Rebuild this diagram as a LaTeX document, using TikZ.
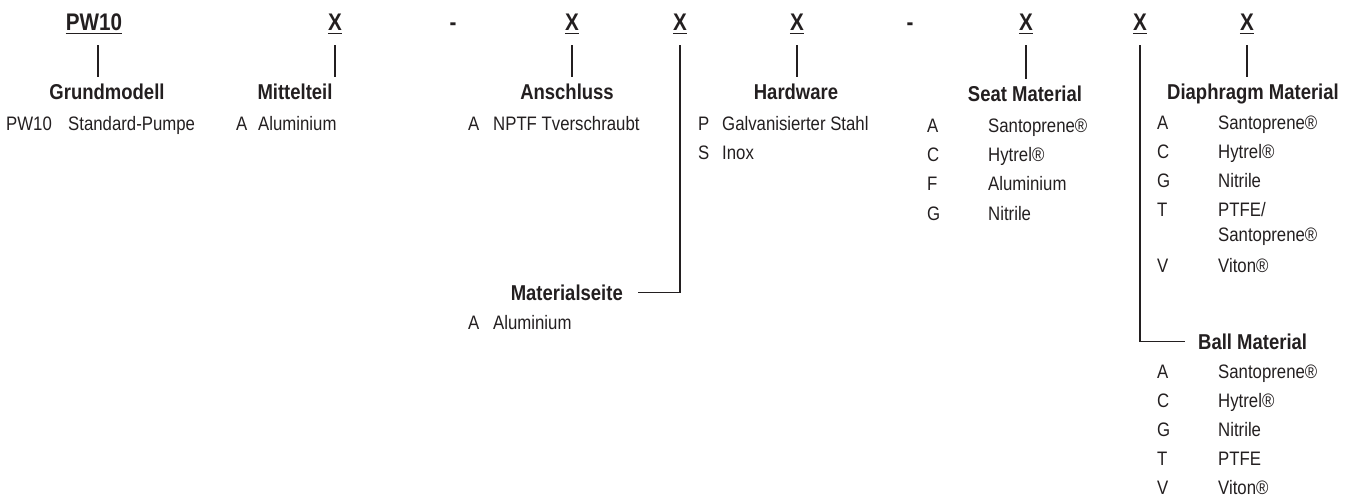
\documentclass[tikz,border=0pt]{standalone}
\usepackage{fontspec}
\newfontfamily\cn[FakeStretch=0.86]{Liberation Sans}
\definecolor{ink}{RGB}{35,31,32}
\begin{document}
\begin{tikzpicture}[x=1pt,y=-1pt,
  hdr/.style={font=\cn\fontsize{24}{28}\selectfont\bfseries, text=ink, anchor=base, inner xsep=0pt, inner ysep=14pt, text depth=0pt},
  ttl/.style={font=\cn\fontsize{21.5}{26}\selectfont\bfseries, text=ink, anchor=base, inner xsep=0pt, inner ysep=7pt},
  itm/.style={font=\cn\fontsize{19.5}{24}\selectfont, text=ink, anchor=base west, inner sep=0pt},
  conn/.style={draw=ink, line width=1.6pt},
  uline/.style={draw=ink, line width=1.4pt}]
\useasboundingbox (0,0) rectangle (1354,497);
% header
\node[hdr] (h0) at (94,31) {PW10};
\node[hdr] (h1) at (335,31) {X};
\node[hdr] (d1) at (453,31) {-};
\node[hdr] (h2) at (572,31) {X};
\node[hdr] (h3) at (680,31) {X};
\node[hdr] (h4) at (797,31) {X};
\node[hdr] (d2) at (910,31) {-};
\node[hdr] (h5) at (1026,31) {X};
\node[hdr] (h6) at (1140,31) {X};
\node[hdr] (h7) at (1247,31) {X};
\foreach \n in {h0,h1,h2,h3,h4,h5,h6,h7}
  \draw[uline] ([yshift=-2.5pt]\n.base west) -- ([yshift=-2.5pt]\n.base east);
% titles
\node[ttl] (t0) at (107,100) {Grundmodell};
\node[ttl] (t1) at (295,100) {Mittelteil};
\node[ttl] (t2) at (567,100) {Anschluss};
\node[ttl] (t4) at (796,100) {Hardware};
\node[ttl] (t5) at (1025,102) {Seat Material};
\node[ttl] (t7) at (1253,100) {Diaphragm Material};
\node[ttl, anchor=base east, inner xsep=15pt] (t3) at (638,300) {Materialseite};
\node[ttl, anchor=base west, inner xsep=13pt] (t6) at (1185,349) {Ball Material};
% connectors
\draw[conn] ([xshift=4pt]h0.south) -- ([xshift=4pt]h0.south |- t0.north);
\draw[conn] (h1.south) -- (h1.south |- t1.north);
\draw[conn] (h2.south) -- (h2.south |- t2.north);
\draw[conn] (h4.south) -- (h4.south |- t4.north);
\draw[conn] (h5.south) -- (h5.south |- t5.north);
\draw[conn] (h7.south) -- (h7.south |- t7.north);
\draw[conn] (h3.south) |- (t3.east);
\draw[conn] (h6.south) |- (t6.west);
% items
\node[itm] (i0a) at (6,131) {PW10};
\node[itm] (i0b) at (68,131) {Standard-Pumpe};
\node[itm] (i1a) at (236,131) {A};
\node[itm] (i1b) at (258,131) {Aluminium};
\node[itm] (i2a) at (468,131) {A};
\node[itm] (i2b) at (493,131) {NPTF Tverschraubt};
\node[itm] (i4a) at (698,131) {P};
\node[itm] (i4b) at (722,131) {Galvanisierter Stahl};
\node[itm] (i4c) at (698,160) {S};
\node[itm] (i4d) at (722,160) {Inox};
% seat
\node[itm] (s1a) at (927,133) {A};
\node[itm] (s1b) at (988,133) {Santoprene®};
\node[itm] (s2a) at (927,162) {C};
\node[itm] (s2b) at (988,162) {Hytrel®};
\node[itm] (s3a) at (927,191) {F};
\node[itm] (s3b) at (988,191) {Aluminium};
\node[itm] (s4a) at (927,220) {G};
\node[itm] (s4b) at (988,220) {Nitrile};
% diaphragm
\node[itm] (p1a) at (1157,130) {A};
\node[itm] (p1b) at (1218,130) {Santoprene®};
\node[itm] (p2a) at (1157,159) {C};
\node[itm] (p2b) at (1218,159) {Hytrel®};
\node[itm] (p3a) at (1157,188) {G};
\node[itm] (p3b) at (1218,188) {Nitrile};
\node[itm] (p4a) at (1157,217) {T};
\node[itm] (p4b) at (1218,217) {PTFE/};
\node[itm] (p4c) at (1218,241) {Santoprene®};
\node[itm] (p5a) at (1157,272) {V};
\node[itm] (p5b) at (1218,272) {Viton®};
% materialseite
\node[itm] (m1a) at (468,329) {A};
\node[itm] (m1b) at (493,329) {Aluminium};
% ball
\node[itm] (b1a) at (1157,378) {A};
\node[itm] (b1b) at (1218,378) {Santoprene®};
\node[itm] (b2a) at (1157,407) {C};
\node[itm] (b2b) at (1218,407) {Hytrel®};
\node[itm] (b3a) at (1157,436) {G};
\node[itm] (b3b) at (1218,436) {Nitrile};
\node[itm] (b4a) at (1157,465) {T};
\node[itm] (b4b) at (1218,465) {PTFE};
\node[itm] (b5a) at (1157,494) {V};
\node[itm] (b5b) at (1218,494) {Viton®};
\end{tikzpicture}
\end{document}
